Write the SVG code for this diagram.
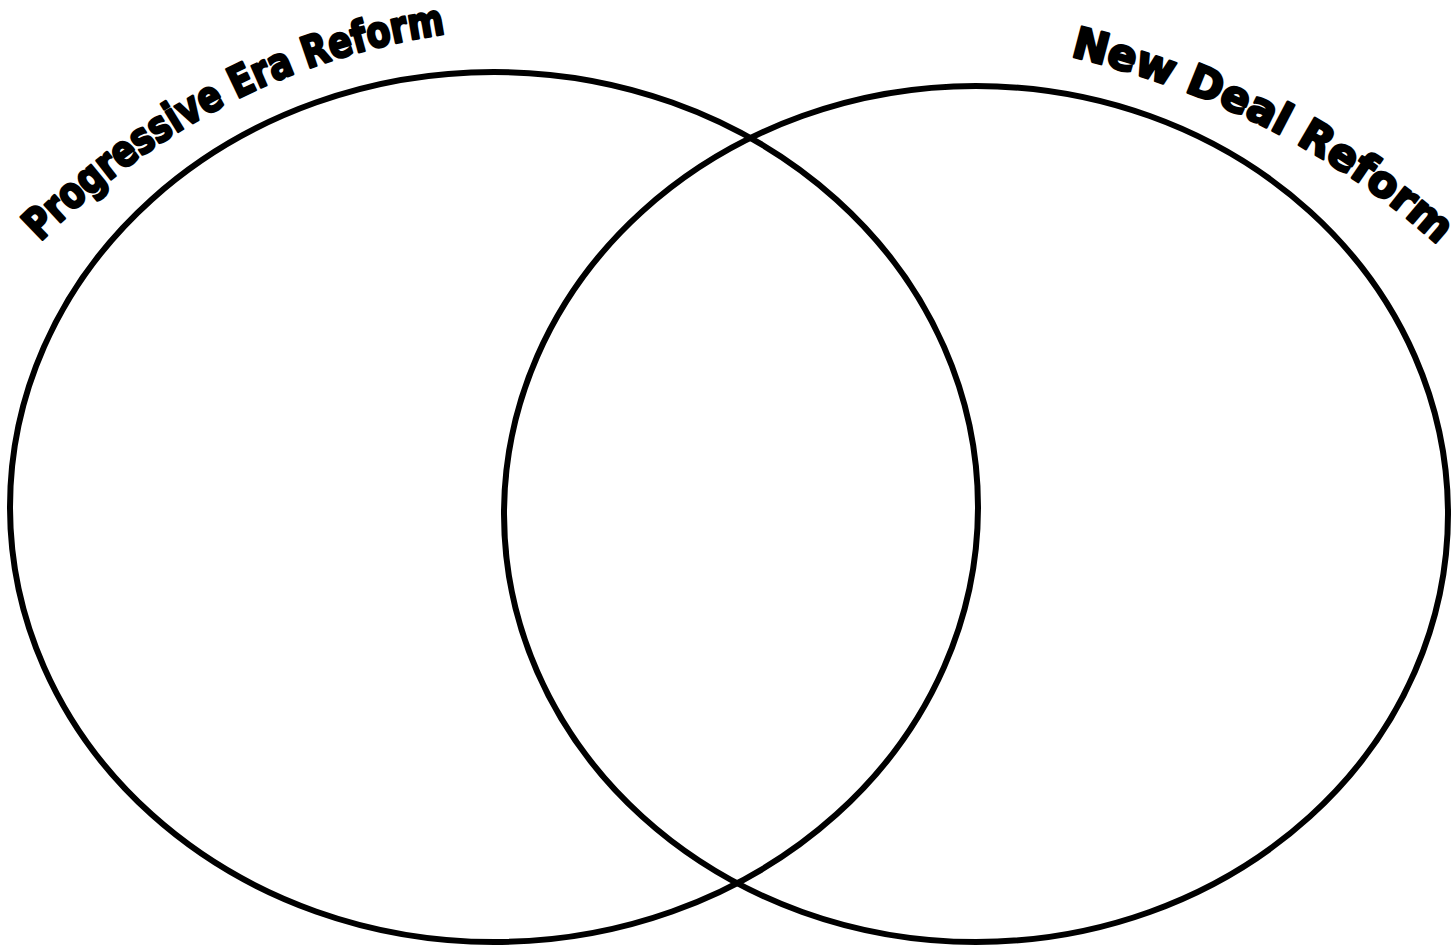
<svg xmlns="http://www.w3.org/2000/svg" width="1456" height="947" viewBox="0 0 1456 947">
<style>
.ring{fill:none;stroke:#000;stroke-width:6}
.title{font-family:"DejaVu Sans","Liberation Sans",sans-serif;font-weight:900;font-size:43px;fill:#000;stroke:#000;stroke-width:2.6;stroke-linejoin:round}
</style>
<defs>
<path id="pl" d="M 40,242 Q 222,62 460,32"/>
<path id="pr" d="M 1070,56 Q 1300,112 1456,262"/>
</defs>
<rect width="1456" height="947" fill="#fff"/>
<g id="left-circle"><ellipse class="ring" cx="494" cy="507" rx="484" ry="435"/></g>
<g id="right-circle"><ellipse class="ring" cx="976" cy="514" rx="472" ry="428"/></g>
<g id="left-label"><text class="title" textLength="464" lengthAdjust="spacingAndGlyphs"><textPath href="#pl">Progressive Era Reform</textPath></text></g>
<g id="right-label"><text class="title" textLength="418" lengthAdjust="spacingAndGlyphs"><textPath href="#pr">New Deal Reform</textPath></text></g>
</svg>
